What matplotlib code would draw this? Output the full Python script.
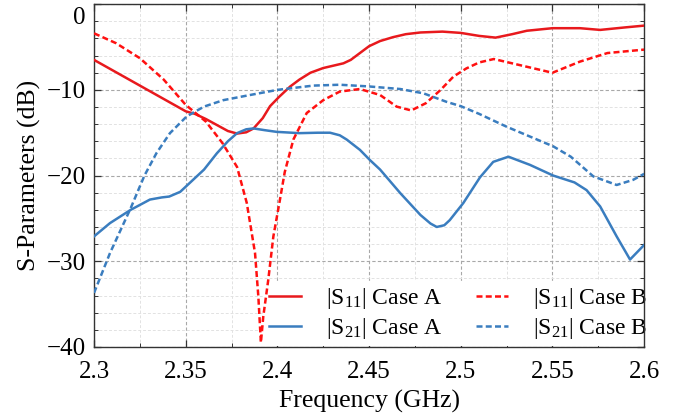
import numpy as np
import matplotlib
matplotlib.use("Agg")
import matplotlib.pyplot as plt
from matplotlib.ticker import MultipleLocator
import matplotlib.transforms as mtransforms

plt.rcParams['font.family'] = ['Liberation Serif', 'DejaVu Serif']
plt.rcParams['mathtext.fontset'] = 'custom'
plt.rcParams['mathtext.rm'] = 'Liberation Serif'
plt.rcParams['mathtext.it'] = 'Liberation Serif:italic'

# values (frequency in GHz, level in dB)
f_s11a = [2.300, 2.3125, 2.325, 2.3375, 2.350, 2.355, 2.361, 2.367, 2.373, 2.378,
          2.383, 2.387, 2.392, 2.396, 2.401, 2.407, 2.412, 2.418, 2.425, 2.431,
          2.436, 2.440, 2.445, 2.450, 2.456, 2.463, 2.470, 2.478, 2.490, 2.500,
          2.510, 2.519, 2.528, 2.536, 2.550, 2.565, 2.576, 2.590, 2.600]
s11a = [-6.5, -8.0, -9.5, -11.0, -12.5, -12.8, -13.4, -14.1, -14.8, -15.1,
        -14.95, -14.5, -13.3, -11.9, -10.8, -9.6, -8.8, -8.0, -7.45, -7.15,
        -6.9, -6.5, -5.7, -4.9, -4.3, -3.85, -3.5, -3.3, -3.2, -3.35,
        -3.7, -3.9, -3.5, -3.1, -2.8, -2.8, -3.0, -2.7, -2.5]

f_s11b = [2.300, 2.312, 2.325, 2.338, 2.350, 2.361, 2.370, 2.378, 2.3833, 2.3878,
          2.3896, 2.391, 2.3923, 2.395, 2.3978, 2.4014, 2.404, 2.4087, 2.416, 2.425,
          2.434, 2.445, 2.456, 2.465, 2.473, 2.481, 2.489, 2.496, 2.503, 2.510,
          2.518, 2.532, 2.550, 2.565, 2.580, 2.600]
s11b = [-3.4, -4.55, -6.3, -8.8, -11.75, -13.7, -16.2, -19.0, -23.2, -29.05,
        -34.1, -39.5, -36.45, -32.2, -27.1, -22.8, -19.6, -15.8, -12.7, -11.2,
        -10.2, -9.9, -10.6, -11.95, -12.4, -11.55, -10.0, -8.45, -7.5, -6.8,
        -6.4, -7.1, -8.0, -6.7, -5.7, -5.3]

f_s21a = [2.300, 2.3087, 2.320, 2.3305, 2.337, 2.341, 2.347, 2.356, 2.360, 2.367,
          2.373, 2.378, 2.383, 2.387, 2.393, 2.3996, 2.412, 2.422, 2.4287, 2.4340,
          2.4378, 2.445, 2.4505, 2.456, 2.467, 2.478, 2.4835, 2.4869, 2.491, 2.494,
          2.5014, 2.5105, 2.5177, 2.526, 2.5377, 2.5504, 2.5620, 2.5686, 2.576, 2.585,
          2.5923, 2.600]
s21a = [-27.1, -25.55, -24.0, -22.8, -22.55, -22.45, -21.9, -20.1, -19.3, -17.4,
        -16.0, -15.05, -14.6, -14.5, -14.7, -14.9, -15.05, -15.0, -15.0, -15.3,
        -15.8, -17.0, -18.2, -19.3, -22.05, -24.6, -25.6, -26.0, -25.8, -25.2,
        -23.2, -20.2, -18.4, -17.8, -18.75, -20.0, -20.8, -21.7, -23.6, -27.1,
        -29.8, -28.1]

f_s21b = [2.300, 2.3087, 2.320, 2.3275, 2.334, 2.3414, 2.3505, 2.360, 2.3705, 2.385,
          2.400, 2.4196, 2.434, 2.450, 2.467, 2.4796, 2.4923, 2.500, 2.510, 2.525,
          2.5505, 2.560, 2.5723, 2.585, 2.594, 2.600]
s21b = [-33.7, -29.05, -23.8, -20.0, -17.4, -15.05, -13.1, -11.95, -11.2, -10.6,
        -10.0, -9.5, -9.4, -9.6, -9.9, -10.4, -11.4, -11.9, -12.8, -14.3,
        -16.6, -17.8, -20.1, -21.1, -20.5, -19.8]

red = '#e8191d'
red2 = '#ff1010'
blue = '#3a7dbf'
dash = (0, (2.4, 1.3))

fig = plt.figure(figsize=(6.75, 4.2), dpi=100)
ax = fig.add_axes([0.1393, 0.174, 0.815, 0.816])

ax.plot(f_s11a, s11a, color=red, lw=1.8, label=r'|S$_{\mathrm{11}}$| Case A', zorder=3)
ax.plot(f_s21a, s21a, color=blue, lw=1.8, label=r'|S$_{\mathrm{21}}$| Case A', zorder=3)
ax.plot(f_s11b, s11b, color=red2, lw=1.8, ls=dash, label=r'|S$_{\mathrm{11}}$| Case B', zorder=3)
ax.plot(f_s21b, s21b, color=blue, lw=1.8, ls=dash, label=r'|S$_{\mathrm{21}}$| Case B', zorder=3)

ax.set_xlim(2.3, 2.6)
ax.set_ylim(-40, 0)
ax.xaxis.set_minor_locator(MultipleLocator(0.025))
ax.yaxis.set_minor_locator(MultipleLocator(2))
ax.set_xticks([2.3, 2.35, 2.4, 2.45, 2.5, 2.55, 2.6])
ax.set_xticklabels(['2.3', '2.35', '2.4', '2.45', '2.5', '2.55', '2.6'])
ax.set_yticks([-40, -30, -20, -10, 0])

ax.grid(which='major', color='#a8a8a8', ls=(0, (3, 2)), lw=0.8)
ax.grid(which='minor', color='#e2e2e2', ls=(0, (3, 2)), lw=0.7)
ax.set_axisbelow(True)

ax.tick_params(which='both', direction='in', top=True, right=True,
               labelsize=18, colors='#333333', labelcolor='black')
ax.tick_params(axis='x', which='major', pad=10)
ax.tick_params(axis='y', which='major', pad=6)
ax.tick_params(which='major', length=5, width=0.9)
ax.tick_params(which='minor', length=3, width=0.7)
for s in ax.spines.values():
    s.set_color('#333333')
    s.set_linewidth(1.0)

# the top "0" label sits below the axes top in the reference
lab0 = ax.yaxis.get_major_ticks()[-1].label1
lab0.set_va('top')
lab0.set_transform(lab0.get_transform() + mtransforms.ScaledTranslation(0, -2 / 72, fig.dpi_scale_trans))

ax.set_xlabel('Frequency (GHz)', fontsize=18.5, labelpad=5)
ax.set_ylabel('S-Parameters (dB)', fontsize=18.5, labelpad=4)

leg = ax.legend(ncol=2, loc='lower right', bbox_to_anchor=(1.027, -0.017),
                fontsize=17, frameon=True, framealpha=1, edgecolor='none',
                handlelength=1.35, handletextpad=1.05, columnspacing=1.45,
                labelspacing=0.2, borderpad=0.2, borderaxespad=0.3)
leg.get_frame().set_linewidth(0)
leg.set_zorder(2)  # above the grid, below the curves

fig.savefig('out.png', dpi=100)
